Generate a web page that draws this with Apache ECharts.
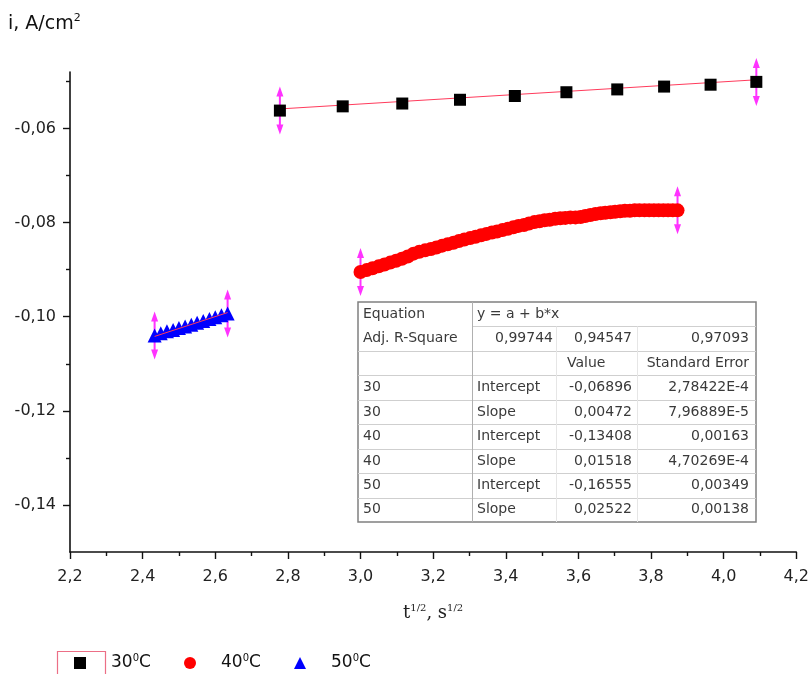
<!DOCTYPE html>
<html><head><meta charset="utf-8">
<script src="https://cdn.jsdelivr.net/npm/echarts@6/dist/echarts.min.js"></script>
<style>html,body{margin:0;padding:0;background:#fff}#c{width:812px;height:674px}</style>
</head><body><div id="c"></div>
<script>
// ---- data ----
const tempLabels = ['30', '40', '50'];
const x30 = [2.778, 2.951, 3.115, 3.274, 3.425, 3.567, 3.707, 3.836, 3.964, 4.090];
const y30 = [-0.0562, -0.0553, -0.0547, -0.0539, -0.0531, -0.0523, -0.0517, -0.0511, -0.0507, -0.0501];
const x40 = [3.000, 3.017, 3.033, 3.050, 3.066, 3.082, 3.098, 3.114, 3.130, 3.146, 3.162, 3.178, 3.194, 3.209,
             3.225, 3.240, 3.256, 3.271, 3.286, 3.302, 3.317, 3.332, 3.347, 3.362, 3.376, 3.391, 3.406, 3.421,
             3.435, 3.450, 3.464, 3.479, 3.493, 3.507, 3.521, 3.536, 3.550, 3.564, 3.578, 3.592, 3.606, 3.619,
             3.633, 3.647, 3.661, 3.674, 3.688, 3.701, 3.715, 3.728, 3.742, 3.755, 3.768, 3.782, 3.795, 3.808,
             3.821, 3.834, 3.847, 3.860, 3.873];
const y40 = [-0.0905, -0.0901, -0.0897, -0.0893, -0.0889, -0.0885, -0.0881, -0.0877, -0.0872, -0.0866, -0.0862,
             -0.0859, -0.0856, -0.0853, -0.0849, -0.0846, -0.0843, -0.0839, -0.0836, -0.0833, -0.0830, -0.0827,
             -0.0824, -0.0821, -0.0819, -0.0816, -0.0813, -0.0810, -0.0807, -0.0805, -0.0802, -0.0799, -0.0797,
             -0.0795, -0.0794, -0.0792, -0.0791, -0.0790, -0.0789, -0.0789, -0.0788, -0.0786, -0.0784, -0.0782,
             -0.0780, -0.0779, -0.0778, -0.0777, -0.0776, -0.0775, -0.0775, -0.0774, -0.0774, -0.0774, -0.0774,
             -0.0774, -0.0774, -0.0774, -0.0774, -0.0774, -0.0774];
const x50 = [2.433, 2.450, 2.467, 2.484, 2.500, 2.517, 2.534, 2.550, 2.567, 2.584, 2.600, 2.617, 2.634];
const y50 = [-0.1040, -0.1035, -0.1031, -0.1028, -0.1024, -0.1021, -0.1017, -0.1013, -0.1009, -0.1005, -0.1001, -0.0997, -0.0993];
const fitIntercept = [-0.06896, -0.13408, -0.16555];
const fitSlope = [0.00472, 0.01518, 0.02522];
const showFit = [true, false, true];
const xMin = 2.2, xMax = 4.2, xStep = 0.2;
const yMin = -0.15, yMax = -0.048;
const yMajorTicks = [-0.14, -0.12, -0.10, -0.08, -0.06];
const yMinorTicks = [-0.13, -0.11, -0.09, -0.07, -0.05];
const tableRows = [
  ['Equation', 'y = a + b*x', '', ''],
  ['Adj. R-Square', '0,99744', '0,94547', '0,97093'],
  ['', '', 'Value', 'Standard Error'],
  ['30', 'Intercept', '-0,06896', '2,78422E-4'],
  ['30', 'Slope', '0,00472', '7,96889E-5'],
  ['40', 'Intercept', '-0,13408', '0,00163'],
  ['40', 'Slope', '0,01518', '4,70269E-4'],
  ['50', 'Intercept', '-0,16555', '0,00349'],
  ['50', 'Slope', '0,02522', '0,00138']
];

// ---- build ----
const chart = echarts.init(document.getElementById('c'), null, {renderer: 'canvas'});
const xs = [x30, x40, x50], ys = [y30, y40, y50];
const colors = ['#000000', '#ff0000', '#0000ff'];
const symbols = ['rect', 'circle', 'triangle'];
const sizes = [12, 14, 14];
const pts = (xa, ya) => xa.map((v, i) => [v, ya[i]]);
const comma = (v, d) => v.toFixed(d).replace('.', ',');
const arrowPath = 'path://M3.5,0 L7,10 L4.5,10 L4.5,38 L7,38 L3.5,48 L0,38 L2.5,38 L2.5,10 L0,10 Z';

const series = [];
tempLabels.forEach((t, k) => {
  const xa = xs[k], ya = ys[k];
  const x0 = xa[0], x1 = xa[xa.length - 1];
  if (showFit[k]) series.push({
    name: 'fit' + t, type: 'line', symbol: 'none', silent: true,
    z: k === 2 ? 4 : 1,
    lineStyle: {color: '#ff3b5c', width: 1},
    data: [[x0, fitIntercept[k] + fitSlope[k] * x0], [x1, fitIntercept[k] + fitSlope[k] * x1]]
  });
  series.push({
    name: 'ends' + t, type: 'scatter', symbol: arrowPath, symbolSize: [7, 48], z: 1, silent: true,
    itemStyle: {color: '#ff00ff'},
    data: [[x0, ya[0]], [x1, ya[ya.length - 1]]]
  });
  series.push({
    name: t, type: 'scatter', symbol: symbols[k], symbolSize: sizes[k], z: 3,
    itemStyle: {color: colors[k], opacity: 1},
    data: pts(xa, ya)
  });
});

const legendRich = {
  g: {width: 20},
  t: {fontSize: 17, fontFamily: 'DejaVu Sans', color: '#111', lineHeight: 20},
  s: {fontSize: 10, fontFamily: 'DejaVu Sans', color: '#111', verticalAlign: 'top', lineHeight: 10}
};
const legendLefts = [74, 184, 294];
const legends = tempLabels.map((t, k) => ({
  data: [{name: t, icon: symbols[k]}],
  left: legendLefts[k], top: 653, padding: 0,
  itemWidth: 12, itemHeight: 12, selectedMode: false,
  formatter: n => `{g|}{t|${n}}{s|0}{t|C}`,
  textStyle: {rich: legendRich}
}));

// table graphic
const tX0 = 358, tX1 = 756, tY0 = 302, tY1 = 522;
const rowH = (tY1 - tY0) / tableRows.length;
const colLines = [472, 556, 637];
const anchors = [[363, 'left'], [477, 'left'], [632, 'right'], [749, 'right']];
const g = [];
g.push({type: 'rect', shape: {x: tX0, y: tY0, width: tX1 - tX0, height: tY1 - tY0},
  style: {fill: '#fff', stroke: '#808080', lineWidth: 1.5}, z: 10});
for (let r = 1; r < tableRows.length; r++) {
  const y = Math.round(tY0 + r * rowH) + 0.5;
  g.push({type: 'line', shape: {x1: r === 1 ? colLines[0] : tX0, y1: y, x2: tX1, y2: y},
    style: {stroke: '#cfcfcf', lineWidth: 1}, z: 11});
}
g.push({type: 'line', shape: {x1: colLines[0] + 0.5, y1: tY0, x2: colLines[0] + 0.5, y2: tY1},
  style: {stroke: '#b0b0b0', lineWidth: 1}, z: 11});
[colLines[1], colLines[2]].forEach(cx => g.push({type: 'line',
  shape: {x1: cx + 0.5, y1: tY0 + rowH, x2: cx + 0.5, y2: tY1},
  style: {stroke: '#e6e6e6', lineWidth: 1}, z: 11}));
tableRows.forEach((row, r) => {
  const cy = tY0 + (r + 0.5) * rowH;
  row.forEach((txt, c) => {
    if (!txt) return;
    let [ax, al] = anchors[c];
    if (r === 1 && c === 1) { ax = 553; al = 'right'; }
    if (r === 2 && c === 2) { ax = 567; al = 'left'; }
    g.push({type: 'text', z: 12, style: {text: txt, x: ax, y: cy, align: al, verticalAlign: 'middle',
      textAlign: al, textVerticalAlign: 'middle',
      fontSize: 14, fontFamily: 'DejaVu Sans', fill: '#3a3a3a'}});
  });
});
// y-axis title
g.push({type: 'text', z: 12, style: {x: 8, y: 13,
  text: '{a|i, A/cm}{b|2}',
  rich: {a: {fontSize: 19, fontFamily: 'DejaVu Sans', fill: '#111', lineHeight: 22},
         b: {fontSize: 11, fontFamily: 'DejaVu Sans', fill: '#111', verticalAlign: 'top', lineHeight: 11}}}});
// legend highlight box
g.push({type: 'rect', z: 12, shape: {x: 57.5, y: 651.5, width: 48, height: 26},
  style: {fill: 'none', stroke: '#ec6f86', lineWidth: 1.2}});

const axisLine = {show: true, lineStyle: {color: '#111', width: 1.6}};
const tickStyle = {color: '#111', width: 1.4};
const option = {
  animation: false,
  backgroundColor: '#fff',
  grid: {left: 70, right: 12, top: 72, bottom: 122, containLabel: false},
  legend: legends,
  xAxis: {
    type: 'value', min: xMin, max: xMax, interval: xStep,
    axisLine: axisLine,
    axisTick: {show: true, length: 7, lineStyle: tickStyle},
    minorTick: {show: true, splitNumber: 2, length: 4, lineStyle: tickStyle},
    splitLine: {show: false},
    axisLabel: {formatter: v => comma(v, 1), fontSize: 16, fontFamily: 'DejaVu Sans', color: '#222', margin: 17},
    name: '{a|t}{s|1/2}{a|, s}{s|1/2}', nameLocation: 'middle', nameGap: 51,
    nameTextStyle: {rich: {
      a: {fontSize: 18, fontFamily: 'DejaVu Serif', color: '#222', lineHeight: 20},
      s: {fontSize: 10, fontFamily: 'DejaVu Serif', color: '#222', verticalAlign: 'top', lineHeight: 10}}}
  },
  yAxis: [{
    type: 'value', min: yMin, max: yMax, position: 'left',
    axisLine: axisLine,
    axisTick: {show: true, length: 7, customValues: yMajorTicks, lineStyle: tickStyle},
    splitLine: {show: false},
    axisLabel: {customValues: yMajorTicks, formatter: v => comma(v, 2), fontSize: 16,
      fontFamily: 'DejaVu Sans', color: '#222', margin: 14}
  }, {
    type: 'value', min: yMin, max: yMax, position: 'left', offset: 0,
    axisLine: {show: false},
    axisTick: {show: true, length: 4, customValues: yMinorTicks, lineStyle: tickStyle},
    splitLine: {show: false},
    axisLabel: {show: false}
  }],
  graphic: {elements: g},
  series: series
};
chart.setOption(option);
</script></body></html>
